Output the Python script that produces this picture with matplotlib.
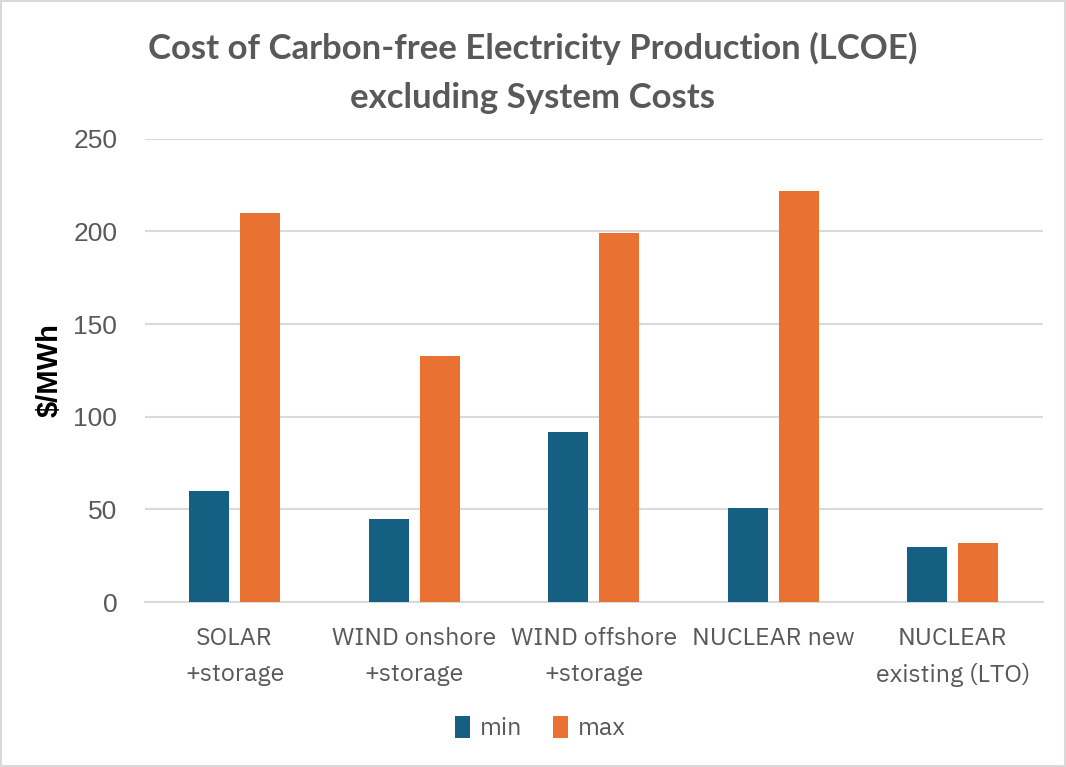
import matplotlib
matplotlib.use("Agg")
import matplotlib.pyplot as plt
import numpy as np
from matplotlib.patches import Rectangle

categories = ["SOLAR\n+storage", "WIND onshore\n+storage", "WIND offshore\n+storage",
              "NUCLEAR new", "NUCLEAR\nexisting (LTO)"]
min_vals = [60, 45, 92, 51, 30]
max_vals = [210, 133, 199, 222, 32]
yticks = [0, 50, 100, 150, 200, 250]

C_MIN = "#156082"
C_MAX = "#E97132"
GRAY = "#595959"
body = ["IBM Plex Sans", "Lato", "DejaVu Sans"]
titlef = ["Lato", "Open Sans", "DejaVu Sans"]
arial = ["Liberation Sans", "DejaVu Sans"]

fig = plt.figure(figsize=(10.66, 7.67), dpi=100)
ax = fig.add_axes([0.136, 0.215, 0.842, 0.604])

x = np.arange(len(categories))
w = 0.223
off = 0.142
ax.bar(x - off, min_vals, w, color=C_MIN, label="min", zorder=3)
ax.bar(x + off, max_vals, w, color=C_MAX, label="max", zorder=3)

ax.set_xlim(-0.5, len(categories) - 0.5)
ax.set_ylim(0, 250)
ax.set_yticks(yticks)
ax.yaxis.grid(True, color="#D9D9D9", linewidth=1.5, zorder=0)
ax.set_axisbelow(True)
for s in ["top", "right", "left"]:
    ax.spines[s].set_visible(False)
ax.spines["bottom"].set_color("#D9D9D9")
ax.spines["bottom"].set_linewidth(1.5)
ax.tick_params(axis="both", length=0)
ax.tick_params(axis="y", labelsize=19, labelcolor=GRAY, pad=20)
ax.set_xticks(x)
ax.set_xticklabels(categories, fontsize=18, color=GRAY, family=body, linespacing=1.7)
ax.tick_params(axis="x", pad=18)
for lbl in ax.get_yticklabels():
    lbl.set_family(arial)

ax.set_ylabel("$/MWh", fontsize=21, fontweight="bold", color="black",
              family=arial, labelpad=7)

fig.text(0.5, 0.905, "Cost of Carbon-free Electricity Production (LCOE)\nexcluding System Costs",
         ha="center", va="center", fontsize=25, fontweight="bold", color=GRAY,
         family=titlef, linespacing=1.65)

leg = fig.legend(loc="center", bbox_to_anchor=(0.507, 0.051), ncol=2, frameon=False,
                 handlelength=0.6, handleheight=1.0, handletextpad=0.4,
                 columnspacing=1.2, prop={"family": body, "size": 18})
for t in leg.get_texts():
    t.set_color(GRAY)

fig.add_artist(Rectangle((0.001, 0.001), 0.998, 0.998, transform=fig.transFigure,
                         fill=False, edgecolor="#D9D9D9", linewidth=1.5))

fig.savefig("out.png", dpi=100)
